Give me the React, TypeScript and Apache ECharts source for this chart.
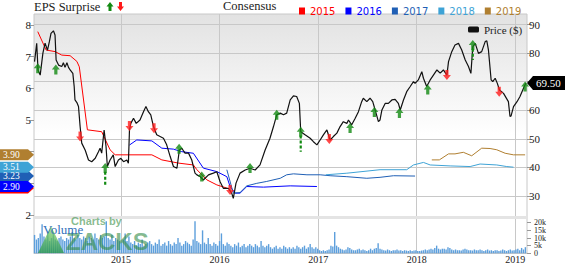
import React, { useEffect, useRef } from 'react';
import * as echarts from 'echarts';

// ---------------- data ----------------
const price: [string, number][] = [
  ['2014-02-14',77],['2014-02-22',83.4],['2014-02-27',74],['2014-03-07',72.3],['2014-03-17',80],['2014-03-25',83.5],['2014-04-03',81],['2014-04-10',84],['2014-04-16',86.9],['2014-04-25',87.8],['2014-05-01',86.3],['2014-05-05',77.6],['2014-05-14',75.8],['2014-05-26',75.3],['2014-06-01',76.6],['2014-06-07',75],['2014-06-14',76.6],['2014-06-20',75],['2014-06-26',74.1],['2014-07-06',72.9],['2014-07-11',68.3],['2014-07-14',63.6],['2014-07-21',62.7],['2014-07-27',61.3],['2014-08-02',54.3],['2014-08-08',48.5],['2014-08-21',46],['2014-09-02',42.6],['2014-09-14',42],['2014-09-27',43.2],['2014-10-09',45.5],['2014-10-15',46.7],['2014-10-21',45],['2014-10-30',53.1],['2014-11-06',47.4],['2014-11-11',40.3],['2014-11-21',42.6],['2014-12-03',44.4],['2014-12-10',40.3],['2014-12-22',42.6],['2014-12-31',43.2],
  ['2015-01-10',42],['2015-01-22',42.6],['2015-01-28',41.5],['2015-02-01',53.1],['2015-02-06',55.4],['2015-02-16',57.2],['2015-02-26',55.4],['2015-03-12',56.6],['2015-03-25',59.5],['2015-04-03',61.3],['2015-04-12',59.5],['2015-04-21',58.4],['2015-05-01',54.3],['2015-05-13',51.4],['2015-06-07',50.2],['2015-06-19',47.9],['2015-07-02',43.8],['2015-07-14',40.3],['2015-07-27',39.7],['2015-08-05',46.1],['2015-08-14',46.7],['2015-08-26',45],['2015-09-08',45],['2015-09-20',42.6],['2015-10-02',38],['2015-10-09',37.4],['2015-10-21',36.8],['2015-11-02',35.6],['2015-11-21',37.4],['2015-12-09',38],['2015-12-22',38.5],
  ['2016-01-03',35],['2016-01-15',32.7],['2016-02-03',32.7],['2016-02-15',31],['2016-02-21',29.2],['2016-03-02',34.5],['2016-03-17',38],['2016-04-05',39.1],['2016-04-23',39.7],['2016-05-12',39.1],['2016-05-30',40.9],['2016-06-18',46.1],['2016-07-06',50.2],['2016-07-19',54.3],['2016-07-31',58.4],['2016-08-13',59],['2016-08-25',58.4],['2016-09-06',59],['2016-09-19',63.6],['2016-10-01',65],['2016-10-13',64.8],['2016-10-23',62.4],['2016-10-28',52.5],['2016-11-13',51.4],['2016-12-02',50.2],['2016-12-14',49],['2016-12-27',47.9],
  ['2017-01-08',49.6],['2017-01-20',51.4],['2017-02-02',53.1],['2017-02-14',49.6],['2017-02-26',50.8],['2017-03-11',52],['2017-03-23',54.3],['2017-04-04',56],['2017-04-17',55.4],['2017-04-23',56.6],['2017-05-05',54.9],['2017-05-18',57.2],['2017-05-30',59.5],['2017-06-11',63],['2017-06-17',64.2],['2017-06-30',63],['2017-07-12',64.2],['2017-07-22',63],['2017-07-31',60.1],['2017-08-12',56],['2017-08-18',56.6],['2017-08-25',60.1],['2017-09-06',62.4],['2017-09-18',62.4],['2017-10-01',63.6],['2017-10-13',63.8],['2017-10-25',62.4],['2017-11-01',60.1],['2017-11-13',63.6],['2017-11-25',66.5],['2017-12-08',68.3],['2017-12-20',70],['2017-12-26',69.4],
  ['2018-01-07',70.6],['2018-01-20',73.5],['2018-01-26',71.2],['2018-02-07',68.3],['2018-02-20',70.6],['2018-03-04',72.3],['2018-03-17',74.1],['2018-03-29',73],['2018-04-10',74.1],['2018-04-23',72.3],['2018-04-29',77],['2018-05-11',80.5],['2018-05-23',82.8],['2018-06-05',83.4],['2018-06-17',81.1],['2018-06-30',77.6],['2018-07-12',75.3],['2018-07-21',72.9],['2018-07-28',82.2],['2018-08-06',83.4],['2018-08-18',79.9],['2018-08-30',80.5],['2018-09-12',84],['2018-09-18',84.3],['2018-09-24',81.1],['2018-10-04',70.6],['2018-10-10',70],['2018-10-19',71.2],['2018-10-27',69.4],['2018-11-04',67.1],['2018-11-19',65.9],['2018-12-07',63],['2018-12-13',57.8],['2018-12-17',58],['2018-12-26',61.3],
  ['2019-01-08',63],['2019-01-19',64.8],['2019-02-01',67.7],['2019-02-10',69.5],
];

const cons2015: [string, number][] = [
  ['2014-02-26',7.79],['2014-03-29',7.21],['2014-05-01',7.16],['2014-05-26',7.05],['2014-06-26',7.03],['2014-07-21',6.85],['2014-07-30',6.68],['2014-08-29',4.69],['2014-10-21',4.63],['2014-11-21',4.06],['2014-12-10',3.9],['2015-04-25',3.9],['2015-06-01',3.74],['2015-08-01',3.64],['2015-09-26',3.58],['2015-10-09',3.43],['2015-11-15',3.11],['2015-12-22',2.95],['2016-01-28',2.85],
];
const cons2016: [string, number][] = [
  ['2015-02-01',4.21],['2015-02-28',4.37],['2015-04-25',4.34],['2015-06-01',4.11],['2015-07-14',4.08],['2015-08-14',4.0],['2015-09-26',3.95],['2015-11-02',3.48],['2015-12-22',3.37],['2016-01-28',3.21],['2016-02-09',2.9],['2016-02-28',2.69],['2016-03-17',2.69],['2016-04-11',2.9],['2016-06-12',2.88],['2016-09-19',2.92],['2016-12-27',2.9],
];
const cons2017: [string, number][] = [
  ['2016-01-28',3.43],['2016-02-21',2.69],['2016-03-17',2.71],['2016-04-11',2.92],['2016-05-18',3.0],['2016-06-24',3.06],['2016-08-13',3.16],['2016-09-06',3.27],['2016-10-01',3.3],['2016-11-20',3.27],['2017-01-08',3.27],['2017-02-14',3.24],['2017-04-17',3.21],['2017-06-30',3.16],['2017-08-18',3.19],['2017-10-07',3.24],['2017-12-26',3.23],
];
const cons2018: [string, number][] = [
  ['2017-01-29',3.27],['2017-04-17',3.32],['2017-08-18',3.43],['2017-11-25',3.43],['2017-12-20',3.58],['2018-01-26',3.66],['2018-02-20',3.58],['2018-05-05',3.55],['2018-07-18',3.53],['2018-08-24',3.61],['2018-10-25',3.58],['2018-12-01',3.53],['2018-12-26',3.51],
];
const cons2019: [string, number][] = [
  ['2018-02-26',3.74],['2018-03-26',3.74],['2018-04-29',3.93],['2018-05-23',3.93],['2018-06-23',3.98],['2018-07-24',3.87],['2018-08-30',4.11],['2018-09-30',4.1],['2018-10-25',4.06],['2018-11-25',3.95],['2018-12-26',3.9],['2019-02-07',3.9],
];

// EPS surprise arrows (placed on the price scale)
const beats: [string, number][] = [
  ['2014-02-26',74.7],['2014-05-04',74.3],['2014-11-03',39.8],['2015-08-04',46.5],['2015-10-27',36.8],['2016-04-23',39.8],['2016-07-31',58.4],['2016-10-28',52.5],['2017-04-29',53.8],['2017-07-28',59.4],['2017-10-29',59],['2018-02-11',67.3],['2018-07-28',82.8],['2019-02-07',68.3],
];
const misses: [string, number][] = [
  ['2014-08-02',50.8],['2015-02-01',54.5],['2015-05-03',53.7],['2016-02-09',32.1],['2017-02-11',49.9],['2018-04-23',72.3],['2018-11-03',66.5],
];
const stems: [string, number, number][] = [
  ['2014-11-03',38.5,33.9],['2016-10-28',51.2,45.5],['2018-07-28',81.5,77.6],
];

// weekly volume (thousands), weeks starting 2014-02-14
const volumeStart = '2014-02-14';
const volume2014 = [12,9,10,13,19,11,9,13,8,10,14,9,8,10,11,9,8,10,9,11,14,10,9,12,10,9,11,10,8,11,10,9,13,10,9,12,10,11,21,10,9,12,8,10,9,8];
const volume2015 = [7,9,13,8,11,7,6,8,5,7,6,9,5,6,7,8,6,5,7,6,9,5,6,7,5,8,6,5,7,6,10,7,5,6,8,7,6,5,9,21,8,7,6,15,7,6,10,6,5,7,6,5];
const volume2016 = [8,13,6,5,7,6,5,4,6,5,7,4,5,6,4,5,6,5,4,6,5,4,8,5,4,5,6,4,3,4,5,3,4,3,5,4,3,4,3,4,3,5,4,3,4,5,3,4,6,4,3,4,3];
const volume2017 = [2,1.5,2,1.5,2,2.5,5,4.5,14,5,4,3,2.5,2,2.5,4,3.5,2.5,2,2,2.5,3,2,2.5,2,1.5,2,3,2,3,3.5,6.5,3,2.5,2,1.8,2.5,2,1.5,2,2,2.5,1.8,2,1.5,2,1.8,1.5,2,1.5,1.8,2];
const volume2018 = [1.5,1.5,1.8,2,2.5,2,2.5,3,2.5,3.5,5,3,2.5,3,3,2.5,4,3.5,2.5,2,2.5,2,2,1.8,2.5,3,2.5,2,2,1.8,2.5,2,2,2.5,2,1.5,2,2.5,1.8,2,1.5,2,2,1.5,1.8,2.5,2,1.5,2,2.5,1.8,2];
const volume2019 = [2.5,3,2,3.5,2.5,4];

const xStart = '2014-02-12';
const xEnd = '2019-02-14';
const yearTickLabels = [2015, 2016, 2017, 2018, 2019];
const volumeTicks = [0, 5000, 10000, 15000, 20000];
const consensusNames = ['2015', '2016', '2017', '2018', '2019'];
const consensusColors = ['#ff0000', '#0000ff', '#1f5fb5', '#3ea3d6', '#b07f30'];

// ---------------- chart ----------------
const SERIF = '"Liberation Serif", "Times New Roman", serif';
const SANS = '"DejaVu Sans", Verdana, sans-serif';
const UP = 'path://M4,0 L8,5 L5.6,5 L5.6,10 L2.4,10 L2.4,5 L0,5 Z';
const DOWN = 'path://M2.4,0 L5.6,0 L5.6,5 L8,5 L4,10 L0,5 L2.4,5 Z';
const DAY = 86400000;
const ts = (s: string) => Date.UTC(+s.slice(0, 4), +s.slice(5, 7) - 1, +s.slice(8, 10));
const pts = (arr: [string, number][]) => arr.map((d) => [ts(d[0]), d[1]]);

export default function App() {
  const ref = useRef<HTMLDivElement>(null);
  useEffect(() => {
    if (!ref.current) return;
    const chart = echarts.init(ref.current, null, { renderer: 'svg' });
    const xMin = ts(xStart);
    const xMax = ts(xEnd);
    const yearTicks = yearTickLabels.map((y) => Date.UTC(y, 0, 1));
    const vols = [...volume2014, ...volume2015, ...volume2016, ...volume2017, ...volume2018, ...volume2019];
    const v0 = ts(volumeStart);
    const volData = vols.map((v, i) => [v0 + i * 7 * DAY, v * 1000]);
    const consData = [cons2015, cons2016, cons2017, cons2018, cons2019];
    const lastCons = consData.map((d) => d[d.length - 1][1]);
    const lastPrice = price[price.length - 1][1];
    const L = 34, R = 38;

    const hiddenX = (gi: number) => ({ type: 'value', gridIndex: gi, min: xMin, max: xMax, show: false, splitLine: { show: false } });

    const option: any = {
      animation: false,
      backgroundColor: '#ffffff',
      grid: [
        { left: L, right: R, top: 14, height: 240, show: true, borderColor: '#c8c8c8', borderWidth: 1, backgroundColor: 'transparent' },
        { left: L, right: R, top: 25, height: 190 },
        { left: L, right: R, top: 24.5, height: 171.5 },
        { left: L, right: R, top: 222.7, height: 30.6 },
      ],
      xAxis: [
        {
          type: 'value', gridIndex: 0, min: xMin, max: xMax,
          axisLine: { show: true, lineStyle: { color: '#c8c8c8' } },
          axisTick: { show: false, customValues: yearTicks },
          axisLabel: {
            customValues: yearTicks,
            formatter: (v: number) => String(new Date(v).getUTCFullYear()),
            fontFamily: SERIF, fontSize: 10, lineHeight: 8, color: '#222', margin: 2,
          },
          splitLine: { show: true, lineStyle: { color: '#c8c8c8', width: 1 } },
        },
        hiddenX(1), hiddenX(2), hiddenX(3),
      ],
      yAxis: [
        { type: 'value', gridIndex: 0, show: false, min: 0, max: 1, splitLine: { show: false } },
        {
          type: 'value', gridIndex: 1, position: 'left', min: 2, max: 8, interval: 1,
          axisLine: { show: false },
          axisTick: { show: true, length: 5, lineStyle: { color: '#999' } },
          axisLabel: {
            fontFamily: SERIF, fontSize: 11, color: '#222', margin: 3,
            showMinLabel: true, showMaxLabel: true,
            // labels sitting under the consensus tags are hidden, as in the original
            formatter: (v: number) => (lastCons.some((c) => Math.abs(c - v) < 0.3) ? '' : String(v)),
          },
          splitLine: { show: false },
        },
        {
          type: 'value', gridIndex: 2, position: 'right', min: 30, max: 90, interval: 10,
          axisLine: { show: false },
          axisTick: { show: true, length: 5, lineStyle: { color: '#999' } },
          axisLabel: {
            fontFamily: SERIF, fontSize: 11, color: '#222', margin: 2,
            showMinLabel: true, showMaxLabel: true,
            formatter: (v: number) => (Math.abs(v - lastPrice) < 3 ? '' : String(v)),
          },
          splitLine: { show: true, lineStyle: { color: '#c8c8c8', width: 1 } },
        },
        {
          type: 'value', gridIndex: 3, position: 'right', min: 0, max: 20000, interval: 5000,
          axisLine: { show: false },
          axisTick: { show: true, length: 4, lineStyle: { color: '#999' } },
          axisLabel: { show: false },
          splitLine: { show: false },
        },
      ],
      legend: [
        {
          left: 294, top: 1, itemWidth: 6, itemHeight: 7, itemGap: 10, icon: 'rect',
          textStyle: { fontFamily: SANS, fontSize: 10 },
          data: consensusNames.map((n, i) => ({ name: n, textStyle: { color: consensusColors[i] } })),
          selectedMode: false,
        },
        {
          left: 463, top: 19, itemWidth: 11, itemHeight: 6, icon: 'roundRect',
          textStyle: { fontFamily: SERIF, fontSize: 11, color: '#222' },
          data: ['Price ($)'],
          selectedMode: false,
        },
      ],
      series: [
        {
          name: 'Volume', type: 'bar', xAxisIndex: 3, yAxisIndex: 3, data: volData,
          barWidth: 1.4, itemStyle: { color: '#5d9fdc' }, z: 2, clip: false,
        },
        ...consData.map((d, i) => ({
          name: consensusNames[i], type: 'line', xAxisIndex: 1, yAxisIndex: 1, data: pts(d),
          showSymbol: false, symbol: 'none', color: consensusColors[i],
          lineStyle: { width: 1, color: consensusColors[i] }, z: 4,
        })),
        {
          name: 'Price ($)', type: 'line', xAxisIndex: 2, yAxisIndex: 2, data: pts(price),
          showSymbol: false, symbol: 'none', color: '#111', clip: false,
          lineStyle: { width: 1.2, color: '#111' }, z: 5,
        },
        ...stems.map((s) => ({
          name: 'stem', type: 'line', xAxisIndex: 2, yAxisIndex: 2,
          data: [[ts(s[0]), s[1]], [ts(s[0]), s[2]]], showSymbol: false, symbol: 'none', clip: false,
          lineStyle: { width: 2.2, color: '#128a12', type: [3, 2] }, z: 6,
        })),
        {
          name: 'Beat', type: 'scatter', xAxisIndex: 2, yAxisIndex: 2, data: pts(beats),
          symbol: UP, symbolSize: [8, 10], itemStyle: { color: '#128a12' }, z: 7, clip: false,
        },
        {
          name: 'Miss', type: 'scatter', xAxisIndex: 2, yAxisIndex: 2, data: pts(misses),
          symbol: DOWN, symbolSize: [8, 10], itemStyle: { color: '#ff1a1a' }, z: 7, clip: false,
        },
      ],
    };
    chart.setOption(option);

    const yEps = (v: number) => chart.convertToPixel({ yAxisIndex: 1 }, v) as number;
    const yPrice = (v: number) => chart.convertToPixel({ yAxisIndex: 2 }, v) as number;
    const yVol = (v: number) => chart.convertToPixel({ yAxisIndex: 3 }, v) as number;
    const top = 14, sep = yEps(2) + 1, right = 565 - R;

    const tagOrder = [0, 2, 1, 3, 4];
    const leftTags: any[] = [];
    tagOrder.forEach((i) => {
      const val = lastCons[i];
      const y = yEps(val);
      leftTags.push({
        type: 'polygon', z: 50,
        shape: { points: [[0, y - 5.5], [28, y - 5.5], [34, y], [28, y + 5.5], [0, y + 5.5]] },
        style: { fill: consensusColors[i] },
      });
      if (i !== 0) {
        leftTags.push({
          type: 'text', z: 51, x: 3, y,
          style: { text: val.toFixed(2), fill: '#ffffff', font: `9.5px ${SERIF}`, verticalAlign: 'middle', lineHeight: 8 },
        });
      }
    });
    const volLabels = volumeTicks.map((v) => ({
      type: 'text', z: 20, x: right + 7, y: yVol(v),
      style: { text: v === 0 ? '0' : v / 1000 + 'k', fill: '#222', font: `8px ${SERIF}`, verticalAlign: 'middle', lineHeight: 7 },
    }));
    const py = yPrice(lastPrice);

    chart.setOption({
      graphic: [
        {
          type: 'rect', z: -10, silent: true,
          shape: { x: L, y: top, width: right - L, height: sep - top },
          style: {
            fill: new echarts.graphic.LinearGradient(0, 0, 0, 1, [
              { offset: 0, color: '#e2e2e2' },
              { offset: 0.6, color: '#ffffff' },
              { offset: 1, color: '#ffffff' },
            ]),
          },
        },
        {
          type: 'rect', z: 1, silent: true,
          shape: { x: L + 1, y: sep, width: right - L - 1, height: 3 },
          style: { fill: '#e4e4e4' },
        },
        { type: 'text', x: 34, y: 7, style: { text: 'EPS Surprise', fill: '#222', font: `12.5px ${SERIF}`, verticalAlign: 'middle' } },
        { type: 'polygon', shape: { points: [[110, 2], [113.5, 6.5], [111.5, 6.5], [111.5, 11], [108.5, 11], [108.5, 6.5], [106.5, 6.5]] }, style: { fill: '#128a12' } },
        { type: 'polygon', shape: { points: [[119, 2], [122, 2], [122, 6.5], [124, 6.5], [120.5, 11], [117, 6.5], [119, 6.5]] }, style: { fill: '#ff1a1a' } },
        { type: 'text', x: 223, y: 6, style: { text: 'Consensus', fill: '#222', font: `12.5px ${SERIF}`, verticalAlign: 'middle' } },
        // watermark
        { type: 'polygon', z: 60, silent: true, shape: { points: [[38, 253], [51, 226], [64, 253]] },
          style: { fill: new echarts.graphic.LinearGradient(0, 0, 0, 1, [
            { offset: 0, color: 'rgba(150,220,120,0.8)' }, { offset: 1, color: 'rgba(40,150,70,0.75)' }]) } },
        { type: 'text', z: 60, silent: true, x: 71, y: 220.5, style: { text: 'Charts by', fill: 'rgba(70,150,80,0.65)', font: `bold 11px "Liberation Sans", Arial, sans-serif`, verticalAlign: 'middle', lineHeight: 8 } },
        { type: 'text', z: 60, silent: true, x: 66, y: 241.5, style: { text: 'ZACKS', fill: 'rgba(50,140,70,0.6)', font: `bold 24px "Liberation Sans", Arial, sans-serif`, verticalAlign: 'middle', lineHeight: 16 } },
        { type: 'text', z: 61, silent: true, x: 43, y: 229.5, style: { text: 'Volume', fill: '#2f6fba', font: `13px ${SERIF}`, verticalAlign: 'middle', lineHeight: 9 } },
        ...volLabels,
        ...leftTags,
        { type: 'polygon', z: 50, shape: { points: [[right, py], [right + 6, py - 7], [565, py - 7], [565, py + 7], [right + 6, py + 7]] }, style: { fill: '#000' } },
        { type: 'text', z: 51, x: right + 9, y: py, style: { text: lastPrice.toFixed(2), fill: '#fff', font: `11px ${SERIF}`, verticalAlign: 'middle' } },
      ],
    });

    return () => chart.dispose();
  }, []);
  return <div ref={ref} style={{ position: 'absolute', left: 0, top: 0, width: 565, height: 264 }} />;
}
